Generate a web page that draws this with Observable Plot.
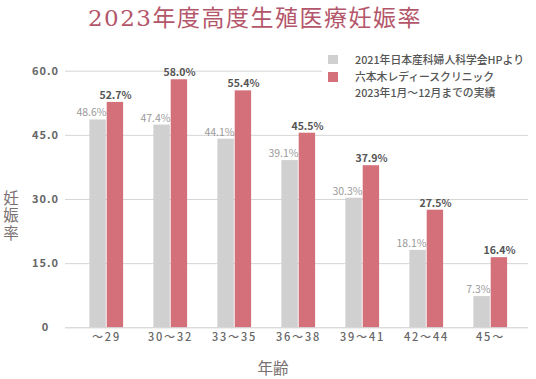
<!DOCTYPE html>
<html><head><meta charset="utf-8">
<script src="https://cdn.jsdelivr.net/npm/d3@7"></script>
<script src="https://cdn.jsdelivr.net/npm/@observablehq/plot@0.6"></script>
<style>
body{margin:0;background:#fff;}
#wrap{position:relative;width:536px;height:379px;overflow:hidden;font-family:"Noto Sans CJK JP","Noto Sans",sans-serif;}
#wrap svg{position:absolute;left:0;top:0;}
.title{position:absolute;left:0;width:510px;top:4px;text-align:center;font-family:"DejaVu Serif","Liberation Serif","Noto Sans CJK JP",serif;font-size:23px;letter-spacing:1.5px;color:#b4566a;line-height:28px;white-space:nowrap;}
.legend{position:absolute;left:322px;top:50px;width:214px;height:48px;background:#fff;font-size:10.8px;color:#555;font-weight:500;}
.legend .sw{position:absolute;left:6px;width:10px;height:9.5px;}
.legend .t{position:absolute;left:33px;line-height:12px;height:12px;white-space:nowrap;}
.ylab{position:absolute;left:2px;top:190px;writing-mode:vertical-rl;font-size:15.5px;letter-spacing:2px;color:#7a7070;line-height:17px;}
.xlab{position:absolute;left:243px;width:60px;top:357px;text-align:center;font-size:15.5px;color:#7a7070;line-height:20px;}
g[aria-label="y-axis tick label"] text{letter-spacing:1px;}
g[aria-label="x-axis tick label"] text{letter-spacing:1.8px;}
</style></head>
<body>
<div id="wrap">
  <div id="chart"></div>
  <div class="title">2023年度高度生殖医療妊娠率</div>
  <div class="legend">
    <div class="sw" style="top:4.5px;background:#d0d0d0"></div>
    <div class="t" style="top:3px">2021年日本産科婦人科学会HPより</div>
    <div class="sw" style="top:22px;background:#d4707a"></div>
    <div class="t" style="top:20px">六本木レディースクリニック</div>
    <div class="t" style="top:35.5px">2023年1月～12月までの実績</div>
  </div>
  <div class="ylab">妊娠率</div>
  <div class="xlab">年齢</div>
</div>
<script>
const ages = ["～29","30～32","33～35","36～38","39～41","42～44","45～"];
const jsog = [48.6,47.4,44.1,39.1,30.3,18.1,7.3];
const clinic = [52.7,58.0,55.4,45.5,37.9,27.5,16.4];
const yTicks = [0,15,30,45,60];
const gridTicks = [15,30,45,60];

const data = ages.map((a,i)=>({age:a, jsog:jsog[i], clinic:clinic[i]}));

const chart = Plot.plot({
  width:536, height:379,
  marginTop:70.7, marginBottom:51.7, marginLeft:65, marginRight:8,
  style:{fontFamily:'"Noto Sans CJK JP","Noto Sans",sans-serif', background:"transparent"},
  x:{domain:ages, padding:0, insetLeft:7.3, insetRight:5.3, label:null},
  y:{domain:[0,60], label:null},
  marks:[
    Plot.ruleY(gridTicks, {stroke:"#d6d6d6", strokeWidth:1}),
    Plot.barY(data, {x:"age", y:"jsog", fill:"#d0d0d0", insetLeft:15.4, insetRight:32.2}),
    Plot.barY(data, {x:"age", y:"clinic", fill:"#d4707a", insetLeft:32.7, insetRight:14.9}),
    Plot.ruleY([0], {stroke:"#cccccc", strokeWidth:1}),
    Plot.text(data, {x:"age", y:"jsog", text:d=>d.jsog.toFixed(1)+"%", textAnchor:"end", lineAnchor:"bottom", dx:0, dy:-3.5, fill:"#9a9a9a", fontSize:10.5}),
    Plot.text(data, {x:"age", y:"clinic", text:d=>d.clinic.toFixed(1)+"%", textAnchor:"middle", lineAnchor:"bottom", dx:9, dy:-3.5, fill:"#555", fontSize:10.5, fontWeight:"bold"}),
    Plot.axisX({tickSize:0, tickPadding:5, fontSize:11, fill:"#666", fontWeight:500, label:null}),
    Plot.axisY({ticks:yTicks, tickSize:0, tickPadding:20, textAnchor:"middle", fontSize:11, fill:"#666", fontWeight:"bold", label:null,
      tickFormat:d=>d===0?"0":d.toFixed(1)})
  ]
});
document.getElementById("chart").appendChild(chart);
</script>
</body></html>
